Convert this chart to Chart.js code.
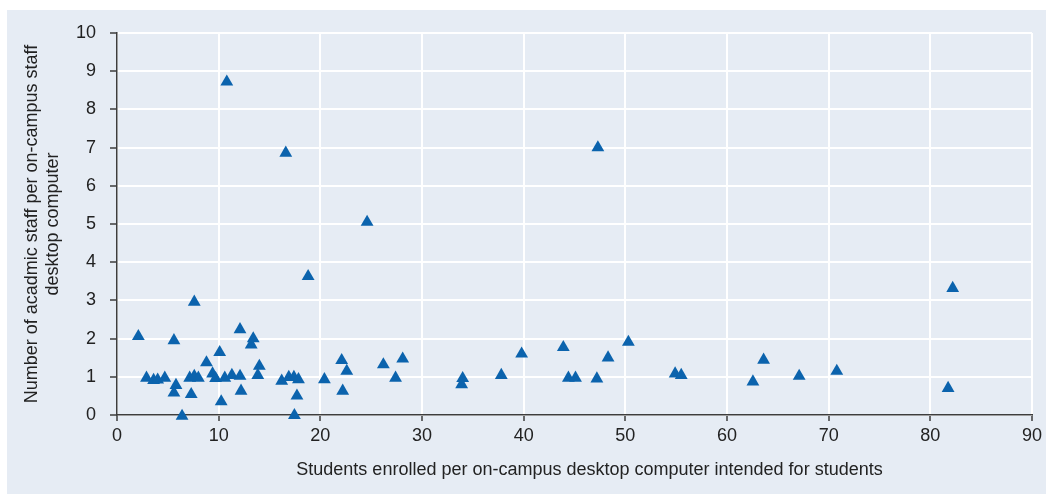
<!DOCTYPE html>
<html>
<head>
<meta charset="utf-8">
<script src="https://cdn.jsdelivr.net/npm/chart.js@4.4.1/dist/chart.umd.min.js"></script>
<style>
  html, body { margin: 0; padding: 0; background: #fff; }
  #wrap { width: 1046px; height: 494px; position: relative; }
</style>
</head>
<body>
<div id="wrap"><canvas id="chart"></canvas></div>
<script>
// students per desktop computer (x) vs academic staff per desktop computer (y)
var studentsPerPC = [2.1, 2.9, 3.6, 4.0, 4.7, 5.6, 5.8, 5.6, 6.4, 7.6, 7.3, 7.15, 7.6, 8.0,
  8.8, 9.4, 9.7, 10.1, 10.25, 10.6, 10.8, 11.3, 12.1, 12.1, 12.2, 13.2, 13.4, 14.0, 13.85,
  16.2, 16.6, 16.9, 17.4, 17.85, 17.7, 17.45, 18.8, 20.4, 22.1, 22.6, 22.2, 24.6, 26.2,
  27.4, 28.1, 34.0, 33.9, 37.8, 39.8, 43.9, 44.4, 45.1, 47.2, 47.3, 48.3, 50.3, 54.9,
  55.5, 62.55, 63.6, 67.1, 70.8, 81.75, 82.2];
var staffPerPC = [2.06, 0.97, 0.91, 0.92, 0.97, 1.95, 0.78, 0.58, -0.03, 2.96, 0.54, 0.97,
  1.02, 0.97, 1.37, 1.08, 0.96, 1.64, 0.35, 0.97, 8.72, 1.04, 2.24, 1.02, 0.63, 1.84, 2.0,
  1.28, 1.04, 0.89, 6.86, 0.99, 0.99, 0.93, 0.5, -0.01, 3.63, 0.93, 1.43, 1.15, 0.63, 5.05,
  1.32, 0.97, 1.47, 0.96, 0.8, 1.04, 1.6, 1.77, 0.97, 0.97, 0.95, 7.0, 1.5, 1.91, 1.08,
  1.04, 0.87, 1.44, 1.02, 1.15, 0.7, 3.32];

// leading spaces nudge the centred title to the right like the original
var xTitle = "      Students enrolled per on-campus desktop computer intended for students";
var yTitle = ["Number of acadmic staff per on-campus staff", "desktop computer"];

var points = studentsPerPC.map(function (d, i) { return { x: d, y: staffPerPC[i] }; });

var panelBg = {
  id: 'panelBg',
  beforeDraw: function (chart) {
    var c = chart.ctx;
    c.save();
    c.fillStyle = '#e6ecf4';
    c.fillRect(7, 10, chart.width - 7, chart.height - 10);
    c.restore();
  }
};

var font = { family: "'Liberation Sans', Arial, sans-serif", size: 18 };
var axisColor = '#3d3d3d';

var chart = new Chart('chart', {
  type: 'scatter',
  data: {
    datasets: [{
      data: points,
      pointStyle: 'triangle',
      pointRadius: 7.4,
      pointHoverRadius: 7.4,
      borderWidth: 0,
      backgroundColor: '#0b63ad',
      borderColor: '#0b63ad',
      clip: false
    }]
  },
  options: {
    responsive: true,
    maintainAspectRatio: false,
    animation: false,
    layout: { padding: { top: 33, right: 10, left: 0, bottom: 0 } },
    plugins: { legend: { display: false }, tooltip: { enabled: false } },
    scales: {
      x: {
        type: 'linear',
        min: 0, max: 90,
        ticks: { stepSize: 10, color: '#222', font: font, padding: 4, maxRotation: 0 },
        grid: { color: '#ffffff', lineWidth: 2, tickColor: axisColor, tickLength: 6, tickWidth: 1.5 },
        border: { color: axisColor, width: 1.5 },
        title: { display: true, text: xTitle, color: '#222', font: font, padding: { top: 0, bottom: 13 } },
        afterFit: function (s) { s.height = 79; }
      },
      y: {
        min: 0, max: 10,
        ticks: { stepSize: 1, color: '#222', font: font, padding: 14 },
        grid: { color: '#ffffff', lineWidth: 2, tickColor: axisColor, tickLength: 7, tickWidth: 1.5 },
        border: { color: axisColor, width: 1.5 },
        title: { display: true, text: yTitle, color: '#222', font: font, padding: { top: 21, bottom: 0 } },
        afterFit: function (s) { s.width = 117; }
      }
    }
  },
  plugins: [panelBg]
});
</script>
</body>
</html>
